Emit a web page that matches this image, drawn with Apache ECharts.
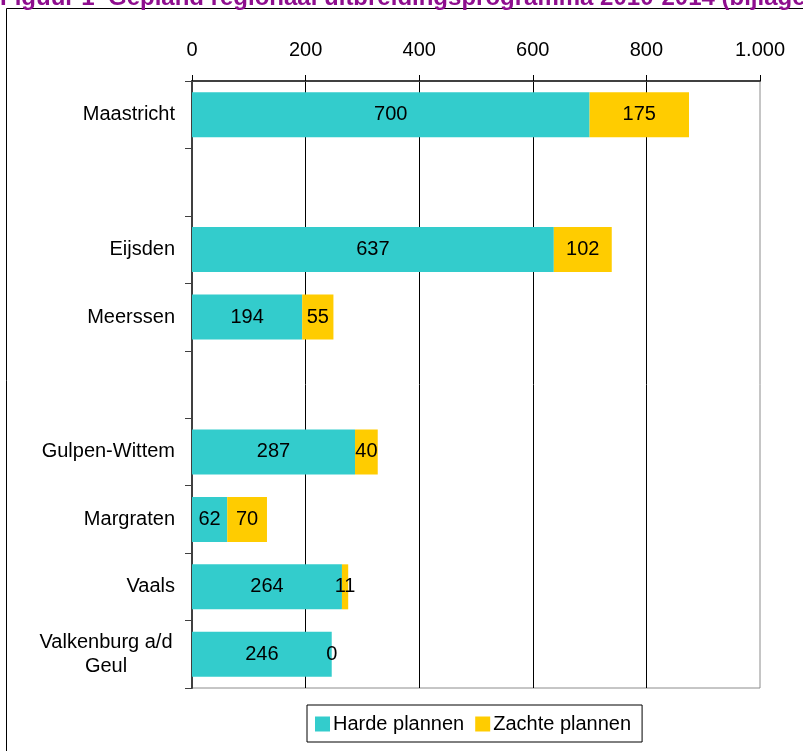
<!DOCTYPE html>
<html>
<head>
<meta charset="utf-8">
<script src="https://cdn.jsdelivr.net/npm/echarts@6/dist/echarts.min.js"></script>
<style>
  html, body { margin: 0; padding: 0; background: #fff; }
  #chart { width: 803px; height: 751px; }
</style>
</head>
<body>
<div id="chart"></div>
<script>
// Gemeenten (lege regels scheiden de subregio's)
const gemeenten = ['Maastricht', ' ', 'Eijsden', 'Meerssen', '  ', 'Gulpen-Wittem', 'Margraten', 'Vaals', 'Valkenburg a/d\nGeul'];
const hardePlannen = [700, null, 637, 194, null, 287, 62, 264, 246];
const zachtePlannen = [175, null, 102, 55, null, 40, 70, 11, 0];
const xTicks = [0, 200, 400, 600, 800, 1000];

const FONT = '"Liberation Sans", Arial, sans-serif';
const TEAL = '#33CCCC';
const GOLD = '#FFCC00';

function fmtNL(v) {
  return String(v).replace(/\B(?=(\d{3})+(?!\d))/g, '.');
}

const chart = echarts.init(document.getElementById('chart'), null, { renderer: 'canvas' });

const labelStyle = {
  show: true,
  position: 'inside',
  color: '#000',
  fontFamily: FONT,
  fontSize: 20
};

chart.setOption({
  animation: false,
  backgroundColor: '#fff',
  textStyle: { fontFamily: FONT },
  graphic: [
    {
      type: 'rect',
      shape: { x: 6.5, y: 8.5, width: 900, height: 900 },
      style: { fill: 'none', stroke: '#000', lineWidth: 1 },
      silent: true
    },
    {
      type: 'text',
      left: 0,
      top: -14,
      z: 10,
      style: {
        text: 'Figuur 1  Gepland regionaal uitbreidingsprogramma 2010-2014 (bijlage',
        fill: '#8E0E8E',
        font: 'bold 24px ' + FONT
      },
      silent: true
    }
  ],
  grid: {
    left: 192,
    right: 43,
    top: 81,
    bottom: 63,
    show: true,
    borderColor: '#8c8c8c',
    borderWidth: 1,
    containLabel: false
  },
  legend: {
    left: 307,
    top: 705,
    orient: 'horizontal',
    icon: 'rect',
    itemWidth: 15,
    itemHeight: 15,
    itemGap: 11,
    padding: [9, 11, 8, 8],
    borderColor: '#000',
    borderWidth: 1,
    textStyle: { color: '#000', fontSize: 20, fontFamily: FONT, padding: [0, 0, 0, -2] },
    data: ['Harde plannen', 'Zachte plannen']
  },
  xAxis: {
    type: 'value',
    position: 'top',
    min: xTicks[0],
    max: xTicks[xTicks.length - 1],
    interval: xTicks[1] - xTicks[0],
    axisLine: { show: true, lineStyle: { color: '#404040', width: 2 } },
    axisTick: { show: true, length: 6, lineStyle: { color: '#000', width: 1 } },
    axisLabel: {
      color: '#000',
      fontSize: 20,
      fontFamily: FONT,
      margin: 21,
      formatter: fmtNL
    },
    splitLine: {
      show: true,
      showMinLine: false,
      showMaxLine: false,
      lineStyle: { color: '#000', width: 1 }
    }
  },
  yAxis: {
    type: 'category',
    inverse: true,
    data: gemeenten,
    axisLine: { show: true, lineStyle: { color: '#404040', width: 2 } },
    axisTick: { show: true, length: 7, lineStyle: { color: '#404040', width: 1 } },
    axisLabel: {
      color: '#000',
      fontSize: 20,
      fontFamily: FONT,
      margin: 17,
      align: 'right',
      formatter: function (v) {
        if (v.indexOf('\n') >= 0) {
          return v.split('\n').map(function (s) { return '{c|' + s + '}'; }).join('\n');
        }
        return v;
      },
      rich: {
        c: { width: 138, align: 'center', fontSize: 20, fontFamily: FONT, color: '#000', lineHeight: 24 }
      }
    }
  },
  series: [
    {
      name: 'Harde plannen',
      type: 'bar',
      stack: 'plannen',
      barWidth: 45,
      itemStyle: { color: TEAL },
      label: labelStyle,
      data: hardePlannen
    },
    {
      name: 'Zachte plannen',
      type: 'bar',
      stack: 'plannen',
      barWidth: 45,
      itemStyle: { color: GOLD },
      label: labelStyle,
      data: zachtePlannen
    }
  ]
});
</script>
</body>
</html>
